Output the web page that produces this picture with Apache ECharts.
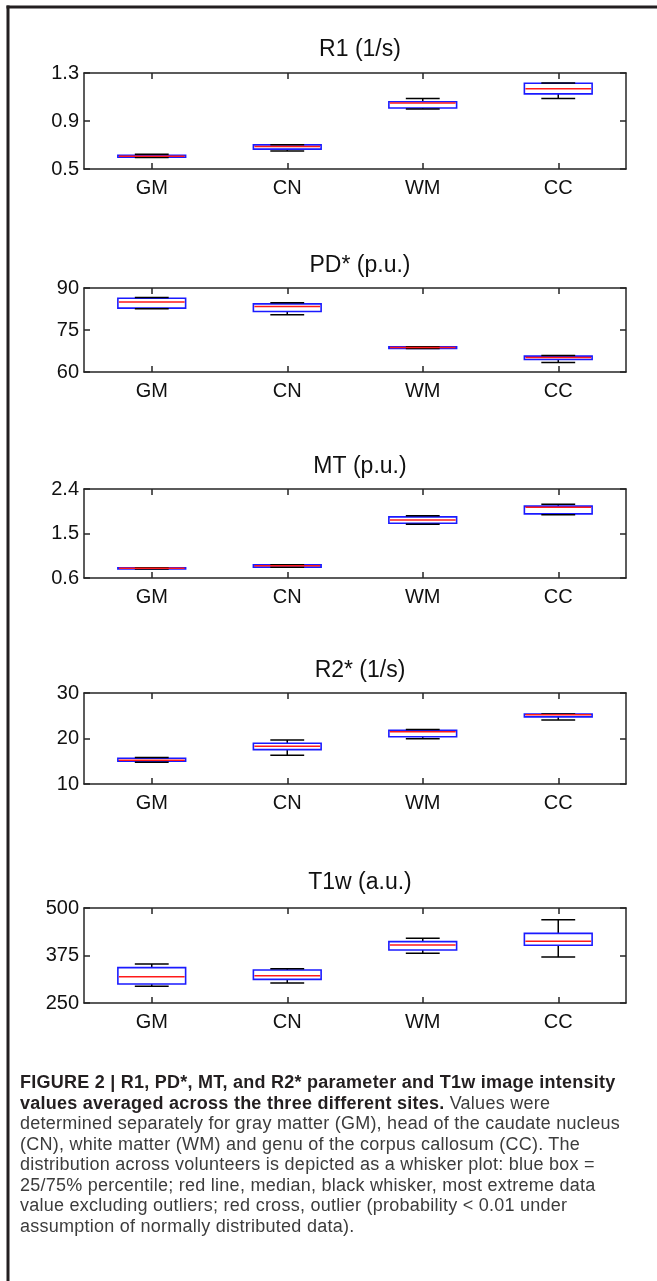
<!DOCTYPE html>
<html>
<head>
<meta charset="utf-8">
<script src="https://cdn.jsdelivr.net/npm/echarts@6/dist/echarts.min.js"></script>
<style>
  html, body { margin: 0; padding: 0; background: #ffffff; }
  #wrap { position: relative; width: 657px; height: 1281px; overflow: hidden; }
  #chart { position: absolute; left: 0; top: 0; width: 657px; height: 1281px; }
  #caption { position: absolute; left: 20px; top: 1072px; width: 636px;
    font-family: "Liberation Sans", Arial, sans-serif; font-size: 18px; line-height: 20.5px;
    letter-spacing: 0.25px; color: #3c3c3c; white-space: nowrap; }
  #caption b { color: #231f20; }
</style>
</head>
<body>
<div id="wrap">
  <div id="chart"></div>
  <div id="caption">
    <div><b>FIGURE 2 | R1, PD*, MT, and R2* parameter and T1w image intensity</b></div>
    <div><b>values averaged across the three different sites.</b> Values were</div>
    <div>determined separately for gray matter (GM), head of the caudate nucleus</div>
    <div>(CN), white matter (WM) and genu of the corpus callosum (CC). The</div>
    <div>distribution across volunteers is depicted as a whisker plot: blue box =</div>
    <div>25/75% percentile; red line, median, black whisker, most extreme data</div>
    <div>value excluding outliers; red cross, outlier (probability &lt; 0.01 under</div>
    <div>assumption of normally distributed data).</div>
  </div>
</div>
<script>
// ---- data ----
const categories = ['GM', 'CN', 'WM', 'CC'];
const panelTitles = ['R1 (1/s)', 'PD* (p.u.)', 'MT (p.u.)', 'R2* (1/s)', 'T1w (a.u.)'];
// each row: [lower whisker, 25%, median, 75%, upper whisker]
const r1Values = [
  [0.596, 0.598, 0.607, 0.614, 0.622],
  [0.649, 0.666, 0.688, 0.701, 0.703],
  [0.999, 1.008, 1.049, 1.060, 1.088],
  [1.088, 1.126, 1.168, 1.214, 1.216]
];
const pdValues = [
  [82.56, 82.8, 85.04, 86.34, 86.57],
  [80.43, 81.61, 83.39, 84.33, 84.69],
  [68.35, 68.39, 68.74, 68.98, 69.0],
  [63.43, 64.49, 65.2, 65.67, 65.9]
];
const mtValues = [
  [0.783, 0.785, 0.797, 0.805, 0.807],
  [0.815, 0.82, 0.848, 0.865, 0.87],
  [1.687, 1.707, 1.775, 1.836, 1.857],
  [1.877, 1.897, 2.033, 2.053, 2.094]
];
const r2Values = [
  [14.8, 15.02, 15.24, 15.67, 15.82],
  [16.33, 17.56, 18.29, 18.95, 19.67],
  [19.96, 20.4, 21.49, 21.78, 22.0],
  [24.04, 24.76, 25.2, 25.35, 25.4]
];
const t1wValues = [
  [293.9, 300, 319.3, 343, 352.6],
  [302.6, 312.3, 321.9, 336.8, 340.4],
  [380.7, 389.5, 402.6, 411.4, 420.2],
  [371, 401.8, 412.3, 433.3, 469.3]
];
const r1Ticks = [0.5, 0.9, 1.3];
const pdTicks = [60, 75, 90];
const mtTicks = [0.6, 1.5, 2.4];
const r2Ticks = [10, 20, 30];
const t1wTicks = [250, 375, 500];

const panelValues = [r1Values, pdValues, mtValues, r2Values, t1wValues];
const panelTicks = [r1Ticks, pdTicks, mtTicks, r2Ticks, t1wTicks];

// ---- layout ----
const gridLayout = [
  { top: 73, height: 96, titleY: 46 },
  { top: 288, height: 84, titleY: 262 },
  { top: 489, height: 89, titleY: 463 },
  { top: 693, height: 91, titleY: 667 },
  { top: 908, height: 95, titleY: 879 }
];
const plotLeft = 84, plotRight = 626;
const axisColor = '#262626';
const fontFam = '"Liberation Sans", Arial, Helvetica, sans-serif';

function renderBox(params, api) {
  const idx = api.value(0);
  const low = api.coord([idx, api.value(1)]);
  const q1 = api.coord([idx, api.value(2)]);
  const med = api.coord([idx, api.value(3)]);
  const q3 = api.coord([idx, api.value(4)]);
  const high = api.coord([idx, api.value(5)]);
  const band = api.size([1, 0])[0];
  const bw = band * 0.5;
  const cw = bw * 0.5;
  const cx = med[0];
  const blk = { stroke: '#000000', lineWidth: 1.5 };
  return {
    type: 'group',
    children: [
      { type: 'line', shape: { x1: cx, y1: high[1], x2: cx, y2: q3[1] }, style: blk },
      { type: 'line', shape: { x1: cx, y1: q1[1], x2: cx, y2: low[1] }, style: blk },
      { type: 'rect', shape: { x: cx - bw / 2, y: q3[1], width: bw, height: Math.max(q1[1] - q3[1], 1) },
        style: { fill: '#ffffff', stroke: '#1a1aff', lineWidth: 1.6 } },
      { type: 'line', shape: { x1: cx - cw / 2, y1: high[1], x2: cx + cw / 2, y2: high[1] }, style: blk },
      { type: 'line', shape: { x1: cx - cw / 2, y1: low[1], x2: cx + cw / 2, y2: low[1] }, style: blk },
      { type: 'line', shape: { x1: cx - bw / 2 + 1, y1: med[1], x2: cx + bw / 2 - 1, y2: med[1] },
        style: { stroke: '#ff1a1a', lineWidth: 1.5 } }
    ]
  };
}

const grids = [], xAxes = [], yAxes = [], series = [], titles = [];
gridLayout.forEach((g, i) => {
  grids.push({ left: plotLeft, right: 657 - plotRight, top: g.top, height: g.height, show: false });
  titles.push({
    text: panelTitles[i], left: (plotLeft + plotRight) / 2, textAlign: 'center',
    top: g.titleY - 13,
    textStyle: { fontFamily: fontFam, fontSize: 23, fontWeight: 'normal', color: '#111' }
  });
  const ticks = panelTicks[i];
  ['bottom', 'top'].forEach(pos => {
    xAxes.push({
      type: 'category', gridIndex: i, position: pos, data: categories, boundaryGap: true,
      axisLine: { show: true, lineStyle: { color: axisColor, width: 1.5 } },
      axisTick: { show: true, inside: true, length: 6, alignWithLabel: true, lineStyle: { color: axisColor, width: 1.5 } },
      axisLabel: { show: pos === 'bottom', margin: 9, fontFamily: fontFam, fontSize: 20, color: '#111' },
      splitLine: { show: false }
    });
  });
  ['left', 'right'].forEach(pos => {
    yAxes.push({
      type: 'value', gridIndex: i, position: pos, min: ticks[0], max: ticks[ticks.length - 1],
      axisLine: { show: true, lineStyle: { color: axisColor, width: 1.5 } },
      axisTick: { show: true, inside: true, length: 6, customValues: ticks, lineStyle: { color: axisColor, width: 1.5 } },
      axisLabel: { show: pos === 'left', customValues: ticks, margin: 5, fontFamily: fontFam, fontSize: 20, color: '#111' },
      splitLine: { show: false }
    });
  });
  series.push({
    type: 'custom', name: panelTitles[i], xAxisIndex: i * 2, yAxisIndex: i * 2,
    renderItem: renderBox,
    encode: { x: 0, y: [1, 2, 3, 4, 5] },
    data: panelValues[i].map((row, k) => [k].concat(row)),
    silent: true
  });
});

const chart = echarts.init(document.getElementById('chart'), null, { renderer: 'canvas' });
chart.setOption({
  animation: false,
  backgroundColor: '#ffffff',
  title: titles,
  grid: grids,
  xAxis: xAxes,
  yAxis: yAxes,
  series: series,
  graphic: [
    { type: 'line', shape: { x1: 8, y1: 5.5, x2: 8, y2: 1281 }, style: { stroke: '#231f20', lineWidth: 3 } },
    { type: 'line', shape: { x1: 6.5, y1: 7, x2: 657, y2: 7 }, style: { stroke: '#231f20', lineWidth: 3 } }
  ]
});
</script>
</body>
</html>
